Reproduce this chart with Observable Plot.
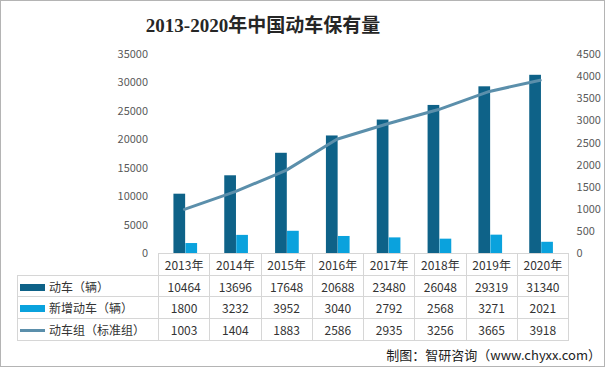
<!DOCTYPE html>
<html>
<head>
<meta charset="utf-8">
<script src="https://cdn.jsdelivr.net/npm/d3@7"></script>
<script src="https://cdn.jsdelivr.net/npm/@observablehq/plot@0.6"></script>
<style>
  html, body { margin: 0; padding: 0; background: #fff; }
  #wrap { position: relative; width: 605px; height: 367px; box-sizing: border-box; border: 1px solid #b4b4b4; overflow: hidden; font-family: "Noto Sans CJK SC", "Noto Sans", sans-serif; }
  #title { position: absolute; left: 0; width: 524px; top: 12px; text-align: center; font-family: "Liberation Serif", "Noto Sans CJK SC", serif; font-weight: bold; font-size: 19px; color: #262626; line-height: 26px; }
  #chart { position: absolute; left: -1px; top: 39px; }
  table { position: absolute; border-collapse: collapse; font-size: 12px; color: #333; table-layout: fixed; }
  td { border: 1px solid #d6d6d6; height: 20.7px; padding: 0; text-align: center; white-space: nowrap; }
  td.lab { text-align: left; padding-left: 2px; }
  td.blank { border: none; }
  .sw { display: inline-block; width: 25px; vertical-align: middle; margin-right: 4px; position: relative; top: -1px; }
  #caption { position: absolute; right: 3px; top: 344px; font-size: 13px; color: #222; }
</style>
</head>
<body>
<div id="wrap">
  <div id="title">2013-2020年中国动车保有量</div>
  <div id="chart"></div>
  <table id="tbl"></table>
  <div id="caption">制图：智研咨询（www.chyxx.com）</div>
</div>
<script>
const years = ["2013年","2014年","2015年","2016年","2017年","2018年","2019年","2020年"];
const emu = [10464, 13696, 17648, 20688, 23480, 26048, 29319, 31340];
const newEmu = [1800, 3232, 3952, 3040, 2792, 2568, 3271, 2021];
const sets = [1003, 1404, 1883, 2586, 2935, 3256, 3665, 3918];
const leftTicks = [0, 5000, 10000, 15000, 20000, 25000, 30000, 35000];
const rightTicks = [0, 500, 1000, 1500, 2000, 2500, 3000, 3500, 4000, 4500];
const seriesNames = ["动车（辆）", "新增动车（辆）", "动车组（标准组）"];
const colors = ["#0e6288", "#0aa2dd", "#5b8fab"];

const leftMax = 35000, rightMax = 4500;
const toLeft = v => v * leftMax / rightMax;

const rows = years.map((y, i) => ({year: y, emu: emu[i], newEmu: newEmu[i], sets: sets[i]}));

const W = 606, mL = 158, mR = 38;
const band = (W - mL - mR) / years.length;
const barW = 12;
const off = 15;

const chart = Plot.plot({
  width: W,
  height: 226,
  marginLeft: mL,
  marginRight: mR,
  marginTop: 14,
  marginBottom: 12,
  style: {fontFamily: "'Noto Sans CJK SC', 'Noto Sans', sans-serif", fontSize: "11px", color: "#595959", background: "transparent"},
  x: {type: "band", domain: years, padding: 0, axis: null},
  y: {domain: [0, leftMax], axis: null},
  marks: [
    Plot.barY(rows, {x: "year", y: "emu", fill: colors[0], insetLeft: off, insetRight: band - off - barW}),
    Plot.barY(rows, {x: "year", y: "newEmu", fill: colors[1], insetLeft: off + barW, insetRight: band - off - 2 * barW}),
    Plot.lineY(rows, {x: "year", y: d => toLeft(d.sets), stroke: colors[2], strokeWidth: 3}),
    Plot.axisY({anchor: "left", ticks: leftTicks, tickSize: 0, tickPadding: 10, tickFormat: d => String(d), fill: "#595959"}),
    Plot.axisY({anchor: "right", ticks: rightTicks.map(toLeft), tickSize: 0, tickPadding: 10, tickFormat: d => String(Math.round(d * rightMax / leftMax)), fill: "#595959"})
  ]
});
document.getElementById("chart").appendChild(chart);

// data table aligned to x bands
const tbl = document.getElementById("tbl");
tbl.style.left = "16px";
tbl.style.top = "252px";
const labW = mL - 1 - 16;
let html = `<colgroup><col style="width:${labW}px">` + years.map(() => `<col style="width:${band}px">`).join("") + `</colgroup>`;
html += `<tr><td class="blank"></td>` + years.map(y => `<td>${y}</td>`).join("") + `</tr>`;
const vals = [emu, newEmu, sets];
const swatch = [
  `<span class="sw" style="height:7px;background:${colors[0]}"></span>`,
  `<span class="sw" style="height:7px;background:${colors[1]}"></span>`,
  `<span class="sw" style="height:3px;background:${colors[2]}"></span>`
];
vals.forEach((arr, k) => {
  html += `<tr><td class="lab">${swatch[k]}${seriesNames[k]}</td>` + arr.map(v => `<td>${v}</td>`).join("") + `</tr>`;
});
tbl.innerHTML = html;
tbl.style.width = (labW + band * years.length) + "px";
</script>
</body>
</html>
